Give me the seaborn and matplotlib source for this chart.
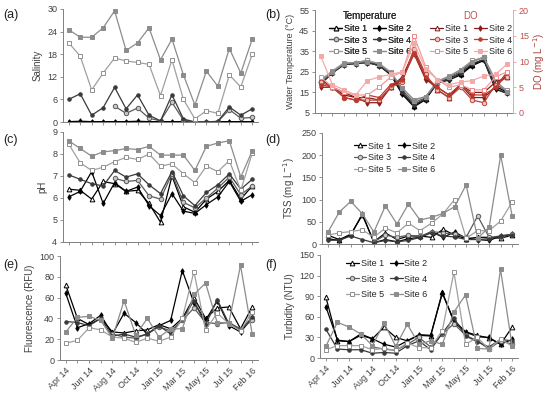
import numpy as np
import pandas as pd
import matplotlib
matplotlib.use("Agg")
import matplotlib.pyplot as plt
import seaborn as sns

# =========================================
# DATA
# =========================================

dates = ["Apr 14", "May 14", "Jun 14", "Jul 14", "Aug 14", "Sep 14", "Oct 14",
         "Nov 14", "Jan 15", "Feb 15", "Mar 15", "Apr 15", "May 15", "Jun 15",
         "Jul 15", "Sep 15", "Feb 16"]
sites = ["Site 1", "Site 2", "Site 3", "Site 4", "Site 5", "Site 6"]
nan = np.nan

# (a) salinity
sal_s1 = [0, 0, 0, 0, 0, 0, 0, 0, 0, 0, 0, 0, 0, 0, 0, 0, 0]
sal_s2 = [0.1, 0.2, 0.1, 0.1, 0.1, 0.1, 0.2, 0.1, 0.1, 0.1, 0.1, 0, 0, 0.1, 0.1, 0.1, 0.1]
sal_s3 = [nan, nan, nan, nan, 4.2, 2.3, 3.7, 1.0, 0.3, 5.2, 0.5, 0, 0, 0.1, 3.3, 1.0, 1.2]
sal_s4 = [6, 7.5, 1.8, 3.8, 9.2, 3.5, 7.2, 1.8, 0.3, 7.2, 0.8, 0, 0, 0.2, 4, 1.8, 3.5]
sal_s5 = [21, 17.5, 8.5, 13, 17, 16.2, 15.8, 15.3, 7, 16.5, 6, 0.8, 3, 2.3, 12.5, 9.3, 18]
sal_s6 = [24.5, 22.5, 22.5, 25, 29.5, 19, 21, 25, 16.5, 22, 12.5, 4.5, 13.5, 9.5, 19.5, 13, 22]

# (b) water temperature
tmp_s1 = [21, 25, 29, 29.5, 30, 28.5, 24, 15, 8.5, 12, 20, 22, 24, 28.5, 31, 18, 15]
tmp_s2 = [19, 24.5, 28.5, 29, 29.5, 28, 23.5, 14, 8, 11.5, 19.5, 21, 23.5, 28, 30.5, 16.5, 14.5]
tmp_s3 = [20, 25, 29, 29.5, 30.5, 28.5, 24.5, 16, 10, 12.5, 20, 22.5, 25, 30, 32, 19, 15.5]
tmp_s4 = [19.5, 24.5, 28.5, 29, 29.5, 28, 24, 15, 9, 12, 19.5, 21.5, 24.5, 29, 31, 17, 14.5]
tmp_s5 = [21, 25.5, 29.5, 29.5, 30.5, 29, 25, 17, 11, 13, 20.5, 23, 26, 30.5, 32, 20, 16]
tmp_s6 = [20.5, 25, 29, 29.5, 30, 29, 24.5, 17, 11.5, 13, 20, 22.5, 26, 30, 32, 21, 15]

# (b) dissolved oxygen
do_s1 = [6.5, 5, 4, 3, 3, 2.5, 5, 7, 12, 7, 4.5, 3, 5.5, 4, 4, 6, 7]
do_s2 = [5, 5, 3.5, 3, 2, 2, 5, 6.5, 11.5, 6.5, 5, 3.5, 5.5, 3, 3, 5, 7.5]
do_s3 = [6, 5, 3, 2.5, 2.5, 2.5, 5, 6, 12.5, 7.5, 4.5, 3, 5, 2.5, 2, 5.5, 7]
do_s4 = [5.5, 5, 3, 2.5, 3.5, 3, 5.5, 6.5, 11.5, 7, 5, 3.5, 5.5, 3.5, 3.5, 5, 8]
do_s5 = [7, 5, 4, 3.5, 3.5, 5, 7, 8, 15, 9, 6.5, 5, 5.5, 4.5, 4.5, 7, 8]
do_s6 = [11, 5.5, 4.5, 3.5, 6.3, 7, 7.5, 8, 13.5, 8.5, 6.5, 5.5, 6, 6.3, 7.2, 7.5, 9.5]

# (c) pH
ph_s1 = [6.4, 6.35, 5.95, 6.75, 6.65, 6.3, 6.35, 5.75, 4.9, 7.0, 5.6, 5.35, 5.95, 6.3, 6.8, 5.95, 6.55]
ph_s2 = [6.05, 6.3, 7.2, 5.75, 6.7, 6.3, 6.5, 5.65, 5.2, 6.2, 5.4, 5.3, 5.7, 6.05, 6.75, 5.85, 6.15]
ph_s3 = [nan, nan, nan, nan, 6.9, 6.75, 6.8, 6.1, 5.95, 7.1, 5.8, 5.55, 6.0, 6.45, 6.95, 6.15, 6.55]
ph_s4 = [7.05, 6.85, 6.65, 6.55, 7.25, 6.95, 7.1, 6.6, 6.2, 7.2, 6.1, 5.65, 6.25, 6.6, 7.1, 6.4, 6.85]
ph_s5 = [8.45, 7.6, 7.25, 7.4, 7.65, 7.85, 7.75, 8.0, 7.45, 7.55, 7.1, 6.7, 7.45, 7.2, 7.7, 6.35, 8.05]
ph_s6 = [8.6, 8.25, 7.9, 8.1, 8.15, 8.25, 8.2, 8.35, 7.95, 7.95, 7.95, 7.25, 8.35, 8.5, 8.6, 6.95, 8.15]

# (d) TSS
tss_s1 = [20, 10, 22, 65, 5, 25, 10, 18, 18, 15, 33, 20, 12, 15, 15, 13, 20]
tss_s2 = [12, 8, 20, 68, 3, 10, 5, 12, 15, 28, 15, 27, 13, 10, 8, 18, 22]
tss_s3 = [nan, nan, nan, nan, 5, 20, 15, 20, 17, 28, 25, 22, 15, 63, 15, 18, 22]
tss_s4 = [8, 9, 18, 10, 3, 8, 5, 8, 15, 25, 18, 16, 10, 10, 12, 18, 20]
tss_s5 = [20, 25, 28, 32, 15, 36, 25, 47, 30, 47, 68, 100, 13, 30, 30, 52, 95]
tss_s6 = [26, 72, 96, 68, 27, 86, 45, 90, 54, 60, 69, 84, 133, 13, 38, 200, 62]

# (e) fluorescence
flu_s1 = [72, 40, 34, 40, 27, 26, 28, 29, 34, 30, 40, 60, 40, 50, 51, 30, 51]
flu_s2 = [64, 31, 35, 43, 25, 45, 36, 25, 33, 38, 86, 55, 38, 57, 33, 27, 40]
flu_s3 = [nan, nan, nan, nan, 25, 22, 21, 25, 32, 28, 38, 50, 36, 35, 36, 30, 38]
flu_s4 = [37, 36, 33, 40, 23, 25, 22, 25, 33, 25, 39, 57, 34, 58, 35, 29, 41]
flu_s5 = [16, 19, 31, 29, 22, 21, 17, 21, 18, 22, 40, 85, 29, 45, 35, 28, 46]
flu_s6 = [27, 41, 42, 38, 21, 57, 24, 40, 22, 30, 30, 63, 74, 36, 36, 91, 25]

# (f) turbidity
tur_s1 = [89, 25, 24, 35, 28, 45, 30, 25, 33, 32, 96, 52, 38, 33, 29, 20, 45]
tur_s2 = [75, 26, 24, 33, 28, 20, 16, 25, 34, 33, 94, 55, 38, 31, 30, 20, 27]
tur_s3 = [nan, nan, nan, nan, 16, 13, 11, 20, 30, 16, 35, 50, 33, 25, 13, 25, 20]
tur_s4 = [42, 13, 12, 12, 7, 8, 7, 18, 25, 12, 36, 58, 32, 24, 16, 27, 25]
tur_s5 = [12, 18, 18, 18, 12, 14, 11, 22, 15, 15, 40, 125, 20, 30, 13, 28, 17]
tur_s6 = [17, 52, 45, 35, 18, 51, 17, 49, 20, 25, 20, 67, 92, 14, 13, 129, 17]

# =========================================
# STYLES
# =========================================

grey_styles = [
    dict(color="#000000", marker="^", mfc="white", mec="#000000", ms=3.4),
    dict(color="#000000", marker="d", mfc="#000000", mec="#000000", ms=2.8),
    dict(color="#5a5a5a", marker="o", mfc="#c8c8c8", mec="#5a5a5a", ms=3.2),
    dict(color="#3a3a3a", marker="o", mfc="#3a3a3a", mec="#3a3a3a", ms=2.5),
    dict(color="#a0a0a0", marker="s", mfc="white", mec="#909090", ms=3.4),
    dict(color="#8c8c8c", marker="s", mfc="#8c8c8c", mec="#8c8c8c", ms=2.5),
]

red_styles = [
    dict(color="#7a1f1f", marker="^", mfc="white", mec="#7a1f1f", ms=3.4),
    dict(color="#8b1a1a", marker="d", mfc="#8b1a1a", mec="#8b1a1a", ms=2.8),
    dict(color="#b8453d", marker="o", mfc="#f2c4c0", mec="#b8453d", ms=3.2),
    dict(color="#c0392b", marker="o", mfc="#c0392b", mec="#c0392b", ms=2.5),
    dict(color="#f29c9c", marker="s", mfc="white", mec="#f08585", ms=3.4),
    dict(color="#f4a9a9", marker="s", mfc="#f4a9a9", mec="#f4a9a9", ms=2.5),
]

sns.set_style("ticks")
plt.rcParams["font.family"] = ["Liberation Sans", "DejaVu Sans"]
plt.rcParams["font.size"] = 6.5
plt.rcParams["axes.edgecolor"] = "#808080"
plt.rcParams["xtick.color"] = "#808080"
plt.rcParams["ytick.color"] = "#808080"
plt.rcParams["xtick.labelcolor"] = "#404040"
plt.rcParams["ytick.labelcolor"] = "#404040"
plt.rcParams["axes.labelcolor"] = "#404040"
plt.rcParams["legend.fontsize"] = 6.5

fig = plt.figure(figsize=(5.5, 3.93), dpi=100)


def pos(l, t, r, b):
    return [l / 550, 1 - b / 393, (r - l) / 550, (b - t) / 393]


x = np.arange(len(dates))
row_order = [0, 2, 4, 1, 3, 5]


def draw(ax, series, styles):
    handles = []
    for vals, st in zip(series, styles):
        df = pd.DataFrame({"x": x, "y": vals}).dropna()
        sns.lineplot(
            data=df, x="x", y="y", ax=ax,
            color=st["color"], marker=st["marker"],
            markersize=st["ms"], markerfacecolor=st["mfc"],
            markeredgecolor=st["mec"], markeredgewidth=0.7,
            linewidth=0.9
        )
        handles.append(ax.lines[-1])
    return handles


def add_legend(ax, handles, **kw):
    return ax.legend([handles[i] for i in row_order],
                     [sites[i] for i in row_order],
                     ncol=2, frameon=False, loc="upper left",
                     handlelength=1.4, handletextpad=0.2,
                     columnspacing=0.7, borderpad=0.2, **kw)


def style_axis(ax, ylim, yticks, ylabel, show_labels, label_size=7):
    ax.set_xlim(-0.5, len(dates) - 0.5)
    ax.set_ylim(*ylim)
    ax.set_yticks(yticks)
    ax.set_xticks(x)
    if show_labels:
        ax.set_xticklabels([d if i % 2 == 0 else "" for i, d in enumerate(dates)],
                           rotation=45, ha="right", rotation_mode="anchor")
    else:
        ax.set_xticklabels([])
    ax.tick_params(axis="both", length=2.2, width=0.6, labelsize=6.5, pad=2)
    ax.set_xlabel("")
    ax.set_ylabel(ylabel, fontsize=label_size, labelpad=3)
    sns.despine(ax=ax)
    for sp in ["left", "bottom"]:
        ax.spines[sp].set_linewidth(0.7)


# =========================================
# (a) SALINITY
# =========================================

ax_a = fig.add_axes(pos(63, 9, 258, 122))
draw(ax_a, [sal_s1, sal_s2, sal_s3, sal_s4, sal_s5, sal_s6], grey_styles)
style_axis(ax_a, (0, 30), [0, 6, 12, 18, 24, 30], "Salinity", False)

# =========================================
# (b) TEMPERATURE + DO
# =========================================

ax_b = fig.add_axes(pos(315, 10, 513, 113))
h_t = draw(ax_b, [tmp_s1, tmp_s2, tmp_s3, tmp_s4, tmp_s5, tmp_s6], grey_styles)
style_axis(ax_b, (5, 55), [5, 15, 25, 35, 45, 55], "Water Temperature (°C)",
           False, label_size=6.5)

ax_b2 = ax_b.twinx()
h_d = draw(ax_b2, [do_s1, do_s2, do_s3, do_s4, do_s5, do_s6], red_styles)
ax_b2.set_ylim(0, 20)
ax_b2.set_yticks([0, 5, 10, 15, 20])
ax_b2.set_ylabel("DO (mg L$^{-1}$)", color="#a8413b", fontsize=7, labelpad=2)
ax_b2.tick_params(axis="y", length=2.2, width=0.6, labelsize=6.5, pad=2,
                  colors="#e8a0a0", labelcolor="#c0504d")
for sp in ["top", "left", "bottom"]:
    ax_b2.spines[sp].set_visible(False)
ax_b2.spines["right"].set_color("#eaa6a6")
ax_b2.spines["right"].set_linewidth(0.7)
ax_b.spines["right"].set_visible(False)

leg_t = add_legend(ax_b, h_t, title="Temperature", title_fontsize=7,
                   bbox_to_anchor=(0.04, 1.05), labelspacing=0.3)
ax_b.add_artist(leg_t)
leg_d = add_legend(ax_b2, h_d, title="DO", title_fontsize=7,
                   bbox_to_anchor=(0.55, 1.05), labelspacing=0.3)
leg_d.get_title().set_color("#c0504d")

# =========================================
# (c) pH
# =========================================

ax_c = fig.add_axes(pos(63, 132, 258, 242))
draw(ax_c, [ph_s1, ph_s2, ph_s3, ph_s4, ph_s5, ph_s6], grey_styles)
style_axis(ax_c, (4, 9), [4, 5, 6, 7, 8, 9], "pH", False)

# =========================================
# (d) TSS
# =========================================

ax_d = fig.add_axes(pos(322, 133, 518, 244))
h = draw(ax_d, [tss_s1, tss_s2, tss_s3, tss_s4, tss_s5, tss_s6], grey_styles)
style_axis(ax_d, (0, 250), [0, 50, 100, 150, 200, 250], "TSS (mg L$^{-1}$)", False)
add_legend(ax_d, h, bbox_to_anchor=(0.13, 0.98), labelspacing=0.3)

# =========================================
# (e) FLUORESCENCE
# =========================================

ax_e = fig.add_axes(pos(60, 256, 258, 360))
draw(ax_e, [flu_s1, flu_s2, flu_s3, flu_s4, flu_s5, flu_s6], grey_styles)
style_axis(ax_e, (0, 100), [0, 20, 40, 60, 80, 100], "Fluorescence (RFU)", True)

# =========================================
# (f) TURBIDITY
# =========================================

ax_f = fig.add_axes(pos(320, 255, 518, 358))
h = draw(ax_f, [tur_s1, tur_s2, tur_s3, tur_s4, tur_s5, tur_s6], grey_styles)
style_axis(ax_f, (0, 150), [0, 30, 60, 90, 120, 150], "Turbidity (NTU)", True)
add_legend(ax_f, h, bbox_to_anchor=(0.1, 1.02), labelspacing=0.7)

# =========================================
# PANEL LETTERS
# =========================================

for lab, px, py in [("(a)", 3, 18), ("(b)", 265, 18), ("(c)", 3, 143),
                    ("(d)", 265, 143), ("(e)", 3, 268), ("(f)", 265, 268)]:
    fig.text(px / 550, 1 - py / 393, lab, fontsize=9, color="#222222")

fig.savefig("out.png", dpi=100)
plt.close(fig)
